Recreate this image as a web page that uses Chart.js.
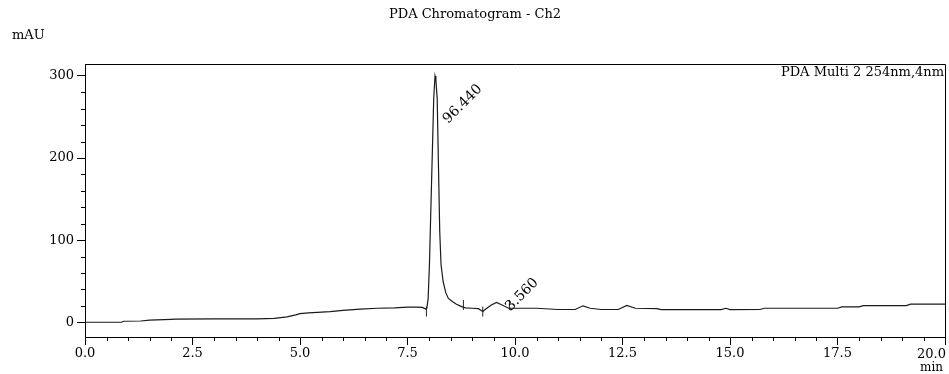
<!DOCTYPE html>
<html>
<head>
<meta charset="utf-8">
<script src="https://cdn.jsdelivr.net/npm/chart.js@4/dist/chart.umd.min.js"></script>
<style>
  html, body { margin: 0; padding: 0; background: #fff; }
  #wrap { width: 949px; height: 374px; position: relative; }
  canvas { display: block; }
</style>
</head>
<body>
<div id="wrap"><canvas id="c" width="949" height="374" style="width:949px;height:374px"></canvas></div>
<script>
// ---- data ----
const chartTitle = 'PDA Chromatogram - Ch2';
const yUnit = 'mAU';
const xUnit = 'min';
const channelLabel = 'PDA Multi 2 254nm,4nm';

const timeMin = [0.0, 0.85, 0.9, 1.3, 1.5, 2.0, 2.1, 3.0, 4.0, 4.4, 4.7, 4.9, 5.0, 5.2, 5.7, 6.0, 6.4, 6.8, 7.2, 7.5, 7.7, 7.85, 7.92, 7.95,
  7.98, 8.01, 8.05, 8.09, 8.11, 8.14, 8.16, 8.19, 8.22, 8.25, 8.28, 8.33, 8.39, 8.45, 8.55, 8.64, 8.76, 8.85,
  9.0, 9.15, 9.25, 9.32, 9.45, 9.57, 9.7, 9.85, 10.0, 10.5, 11.0, 11.4, 11.58, 11.75, 12.0, 12.4, 12.6, 12.8,
  13.3, 13.4, 14.8, 14.9, 15.0, 15.7, 15.8, 17.5, 17.6, 18.0, 18.1, 19.1, 19.2, 20.0];
const absorbance = [0, 0, 1.2, 1.5, 2.5, 3.5, 3.8, 4.0, 4.2, 4.8, 6.5, 9, 10.5, 11.5, 13, 14.5, 16, 17, 17.5, 18.5, 18.5, 18, 16, 17,
  29, 70, 151, 232, 273, 300, 295, 273, 191, 110, 70, 49, 36, 29, 25, 22, 19, 17.5,
  17, 16.5, 13, 16, 21, 24, 21, 17, 17, 17, 15.5, 15.5, 20, 17, 15.5, 15.5, 20.5, 17,
  16.5, 15.4, 15.4, 17, 15.4, 15.5, 17, 17, 18.7, 18.7, 20.3, 20.3, 22, 22];

const peakTimes = [8.14, 9.57];
const peakHeights = [300, 24];
const peakAreaPct = ['96.440', '3.560'];

const eventTimes = [7.94, 9.25, 8.80, 9.87];
const eventLevels = [13, 13, 21, 21];

const xTickValues = [0, 2.5, 5, 7.5, 10, 12.5, 15, 17.5, 20];
const yTickValues = [0, 100, 200, 300];

const FONT = "'DejaVu Serif', 'Liberation Serif', serif";

const traceData = timeMin.map((t, i) => ({ x: t, y: absorbance[i] }));
const peakData = peakTimes.map((t, i) => ({ x: t, y: peakHeights[i], label: peakAreaPct[i] }));
const eventData = eventTimes.map((t, i) => ({ x: t, y: eventLevels[i] }));

const decorPlugin = {
  id: 'decor',
  afterDraw(chart) {
    const { ctx, chartArea: a, scales } = chart;
    const xs = scales.x, ys = scales.y;
    ctx.save();
    // frame (top + right)
    ctx.strokeStyle = '#000';
    ctx.lineWidth = 1;
    ctx.beginPath();
    ctx.moveTo(a.left, a.top + 0.5);
    ctx.lineTo(a.right + 0.5, a.top + 0.5);
    ctx.lineTo(a.right + 0.5, a.bottom);
    ctx.stroke();
    // minor ticks
    ctx.beginPath();
    for (let v = 0; v <= 20.001; v += 0.5) {
      if (xTickValues.some(m => Math.abs(m - v) < 1e-6)) continue;
      const px = Math.round(xs.getPixelForValue(v)) + 0.5;
      ctx.moveTo(px, a.bottom);
      ctx.lineTo(px, a.bottom + 4);
    }
    for (let v = 0; v <= 300; v += 20) {
      if (yTickValues.includes(v)) continue;
      const py = Math.round(ys.getPixelForValue(v)) + 0.5;
      ctx.moveTo(a.left, py);
      ctx.lineTo(a.left - 4, py);
    }
    ctx.stroke();
    // texts
    ctx.fillStyle = '#000';
    ctx.font = '13px ' + FONT;
    ctx.textAlign = 'center';
    ctx.textBaseline = 'middle';
    ctx.fillText(chartTitle, 475, 15);
    ctx.textAlign = 'left';
    ctx.fillText(yUnit, 12, 36);
    ctx.textAlign = 'right';
    ctx.fillText('20.0', a.right + 1, 355);
    ctx.font = '12px ' + FONT;
    ctx.fillText(xUnit, a.right - 2, 368);
    ctx.font = '13px ' + FONT;
    ctx.textBaseline = 'top';
    ctx.fillText(channelLabel, a.right - 1, a.top + 2);
    // peak labels (rotated)
    const offs = [[13, 48], [14, 9]];
    ctx.font = '14px ' + FONT;
    ctx.textAlign = 'left';
    ctx.textBaseline = 'alphabetic';
    peakData.forEach((p, i) => {
      const px = xs.getPixelForValue(p.x);
      const py = ys.getPixelForValue(p.y);
      ctx.save();
      ctx.translate(px + offs[i][0], py + offs[i][1]);
      ctx.rotate(-Math.PI / 4);
      ctx.fillText(p.label, 0, 0);
      ctx.restore();
    });
    ctx.restore();
  }
};

new Chart(document.getElementById('c'), {
  type: 'scatter',
  data: {
    datasets: [
      {
        label: 'trace',
        data: traceData,
        showLine: true,
        borderColor: '#1a1a1a',
        borderWidth: 1.2,
        pointRadius: 0,
        tension: 0,
        fill: false
      },
      {
        label: 'events',
        data: eventData,
        showLine: false,
        pointStyle: 'line',
        rotation: 90,
        pointRadius: 5,
        borderColor: '#222',
        borderWidth: 1
      }
    ]
  },
  options: {
    responsive: false,
    maintainAspectRatio: false,
    animation: false,
    devicePixelRatio: 1,
    layout: { autoPadding: false, padding: { left: 0, top: 64, right: 4, bottom: 0 } },
    plugins: { legend: { display: false }, tooltip: { enabled: false }, title: { display: false } },
    scales: {
      x: {
        type: 'linear',
        min: 0, max: 20,
        afterFit: s => { s.height = 37; },
        afterBuildTicks: s => { s.ticks = xTickValues.map(v => ({ value: v })); },
        ticks: {
          color: '#000',
          font: { family: FONT, size: 13 },
          padding: 1,
          maxRotation: 0,
          autoSkip: false,
          callback: v => (v === 20 ? '' : Number(v).toFixed(1))
        },
        grid: { drawOnChartArea: false, drawTicks: true, tickLength: 8, color: '#000' },
        border: { display: true, color: '#000', width: 1 }
      },
      y: {
        type: 'linear',
        min: -18, max: 314.6,
        afterFit: s => { s.width = 85; },
        afterBuildTicks: s => { s.ticks = yTickValues.map(v => ({ value: v })); },
        ticks: {
          color: '#000',
          font: { family: FONT, size: 13 },
          padding: 3,
          autoSkip: false,
          callback: v => String(v)
        },
        grid: { drawOnChartArea: false, drawTicks: true, tickLength: 8, color: '#000' },
        border: { display: true, color: '#000', width: 1 }
      }
    }
  },
  plugins: [decorPlugin]
});
</script>
</body>
</html>
